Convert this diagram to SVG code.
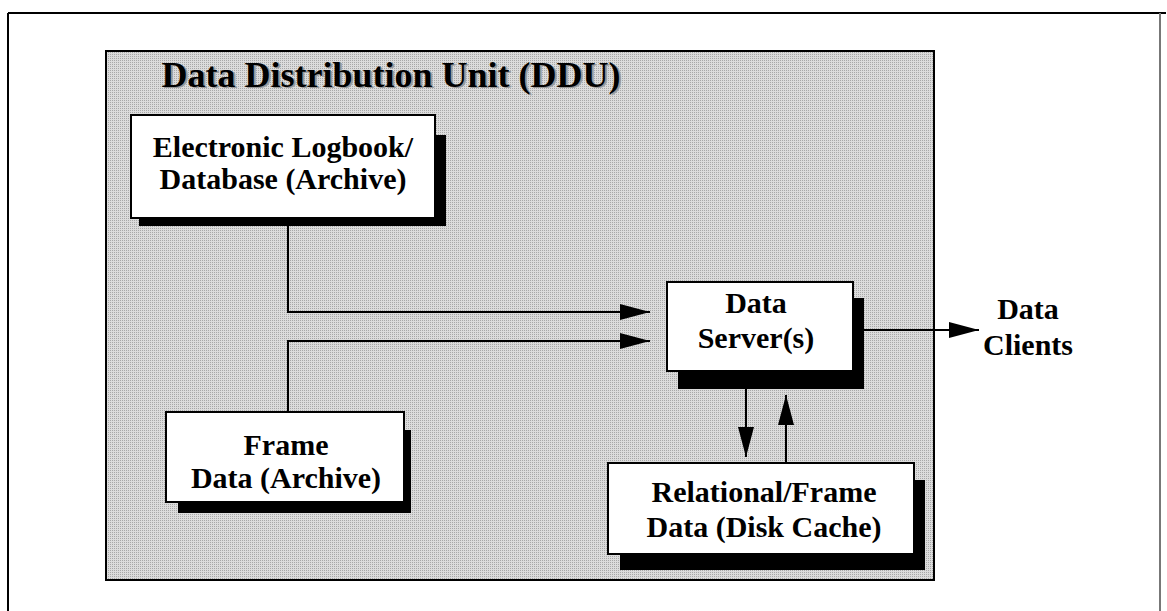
<svg xmlns="http://www.w3.org/2000/svg" width="1167" height="611" viewBox="0 0 1167 611">
<defs>
<style>
.t{font-family:"Liberation Serif","Times New Roman",serif;font-weight:bold;fill:#000;text-anchor:middle}
.box{fill:#fff;stroke:#000;stroke-width:2}
.sh{fill:#000}
.ln{fill:none;stroke:#000;stroke-width:2}
</style>
<marker id="ah" viewBox="0 0 30 16" refX="30" refY="8" markerWidth="30" markerHeight="16" markerUnits="userSpaceOnUse" orient="auto">
<path d="M0,0 L30,8 L0,16 Z" fill="#000"/>
</marker>
<pattern id="dots" width="2" height="2" patternUnits="userSpaceOnUse">
<rect width="2" height="2" fill="#dcdcdc"/>
<rect width="1" height="1" fill="#a8a8a8"/>
</pattern>
</defs>
<rect width="1167" height="611" fill="#fff"/>
<g id="frame">
<line x1="8" y1="13" x2="1166" y2="13" stroke="#000" stroke-width="2"/>
<line x1="8" y1="13" x2="8" y2="611" stroke="#000" stroke-width="2"/>
<line x1="1160" y1="13" x2="1160" y2="611" stroke="#777" stroke-width="2"/>
</g>
<g id="ddu">
<rect x="106" y="51" width="828" height="529" fill="url(#dots)" stroke="#000" stroke-width="2"/>
<text class="t" x="391" y="87" font-size="36" style="fill:#999" dx="2" dy="1">Data Distribution Unit (DDU)</text>
<text class="t" x="391" y="87" font-size="36">Data Distribution Unit (DDU)</text>
</g>
<g id="connectors">
<polyline class="ln" points="288,226 288,312 650,312" marker-end="url(#ah)"/>
<polyline class="ln" points="288,412 288,341 650,341" marker-end="url(#ah)"/>
<line class="ln" x1="864" y1="330" x2="979" y2="330" marker-end="url(#ah)"/>
<line class="ln" x1="746" y1="389" x2="746" y2="457" marker-end="url(#ah)"/>
<line class="ln" x1="786" y1="463" x2="786" y2="395" marker-end="url(#ah)"/>
</g>
<g id="logbook">
<rect class="sh" x="139" y="135" width="307" height="91"/>
<rect class="box" x="131" y="115" width="304" height="103"/>
<text class="t" x="283" y="157" font-size="30">Electronic Logbook/</text>
<text class="t" x="283" y="189" font-size="30">Database (Archive)</text>
</g>
<g id="frame-data">
<rect class="sh" x="178" y="430" width="233" height="83"/>
<rect class="box" x="166" y="412" width="238" height="90"/>
<text class="t" x="286" y="455" font-size="30">Frame</text>
<text class="t" x="286" y="488" font-size="30">Data (Archive)</text>
</g>
<g id="data-server">
<rect class="sh" x="678" y="298" width="186" height="91"/>
<rect class="box" x="667" y="282" width="186" height="89"/>
<text class="t" x="756" y="313" font-size="30">Data</text>
<text class="t" x="756" y="348" font-size="30">Server(s)</text>
</g>
<g id="cache">
<rect class="sh" x="620" y="480" width="305" height="90"/>
<rect class="box" x="608" y="463" width="306" height="91"/>
<text class="t" x="764" y="502" font-size="30">Relational/Frame</text>
<text class="t" x="764" y="537" font-size="30">Data (Disk Cache)</text>
</g>
<g id="clients">
<text class="t" x="1028" y="319" font-size="30">Data</text>
<text class="t" x="1028" y="355" font-size="30">Clients</text>
</g>
</svg>
